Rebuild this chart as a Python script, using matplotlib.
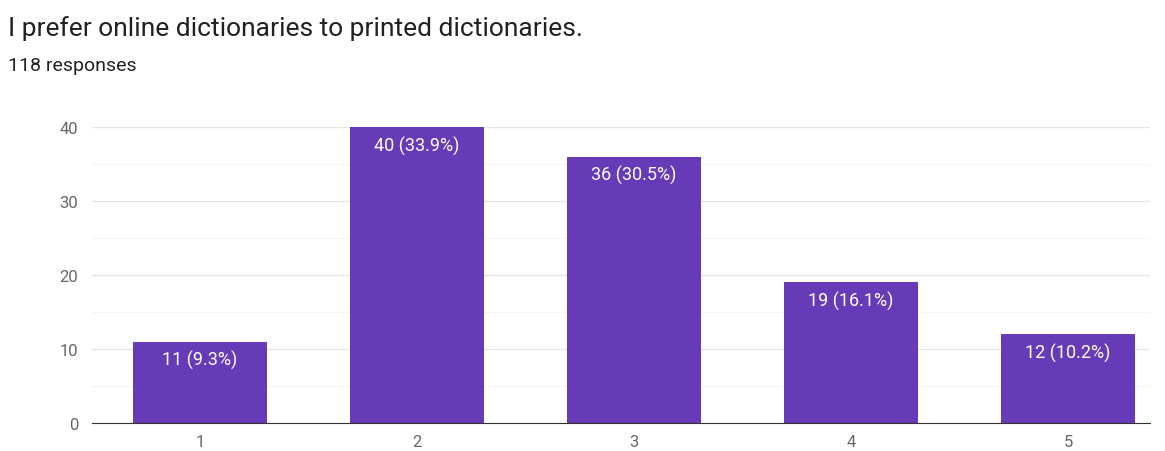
import matplotlib.pyplot as plt
import numpy as np

categories = ['1', '2', '3', '4', '5']
counts = [11, 40, 36, 19, 12]
labels = ['11 (9.3%)', '40 (33.9%)', '36 (30.5%)', '19 (16.1%)', '12 (10.2%)']

plt.rcParams['font.family'] = ['Roboto', 'DejaVu Sans']

fig = plt.figure(figsize=(11.65, 4.52), dpi=100)
ax = fig.add_axes([92 / 1165, 28 / 452, 1058 / 1165, 296 / 452])

x = np.arange(1, len(categories) + 1)
bars = ax.bar(x, counts, width=0.615, color='#673ab7', zorder=3)

for b, lab in zip(bars, labels):
    ax.annotate(lab, (b.get_x() + b.get_width() / 2, b.get_height()),
                xytext=(0, -6), textcoords='offset points',
                ha='center', va='top', color='white', fontsize=13, zorder=4)

ax.set_xlim(0.502, 5.378)
ax.set_ylim(0, 40)
ax.set_xticks(x)
ax.set_xticklabels(categories)
ax.set_yticks([0, 10, 20, 30, 40])
ax.set_yticks([5, 15, 25, 35], minor=True)
ax.grid(axis='y', which='major', color='#e6e6e6', linewidth=1, zorder=0)
ax.grid(axis='y', which='minor', color='#f5f5f5', linewidth=1, zorder=0)
ax.tick_params(axis='both', which='both', length=0, labelsize=12, labelcolor='#666666')
ax.tick_params(axis='x', pad=8)
ax.tick_params(axis='y', pad=10)
for s in ['top', 'right', 'left']:
    ax.spines[s].set_visible(False)
ax.spines['bottom'].set_color('#333333')
ax.spines['bottom'].set_zorder(5)

fig.text(8 / 1165, 1 - 36 / 452, 'I prefer online dictionaries to printed dictionaries.',
         fontsize=19, color='#212121', va='baseline', ha='left')
fig.text(8 / 1165, 1 - 71 / 452, '118 responses', fontsize=14, color='#212121',
         va='baseline', ha='left')

fig.savefig('out.png', dpi=100, facecolor='white')
